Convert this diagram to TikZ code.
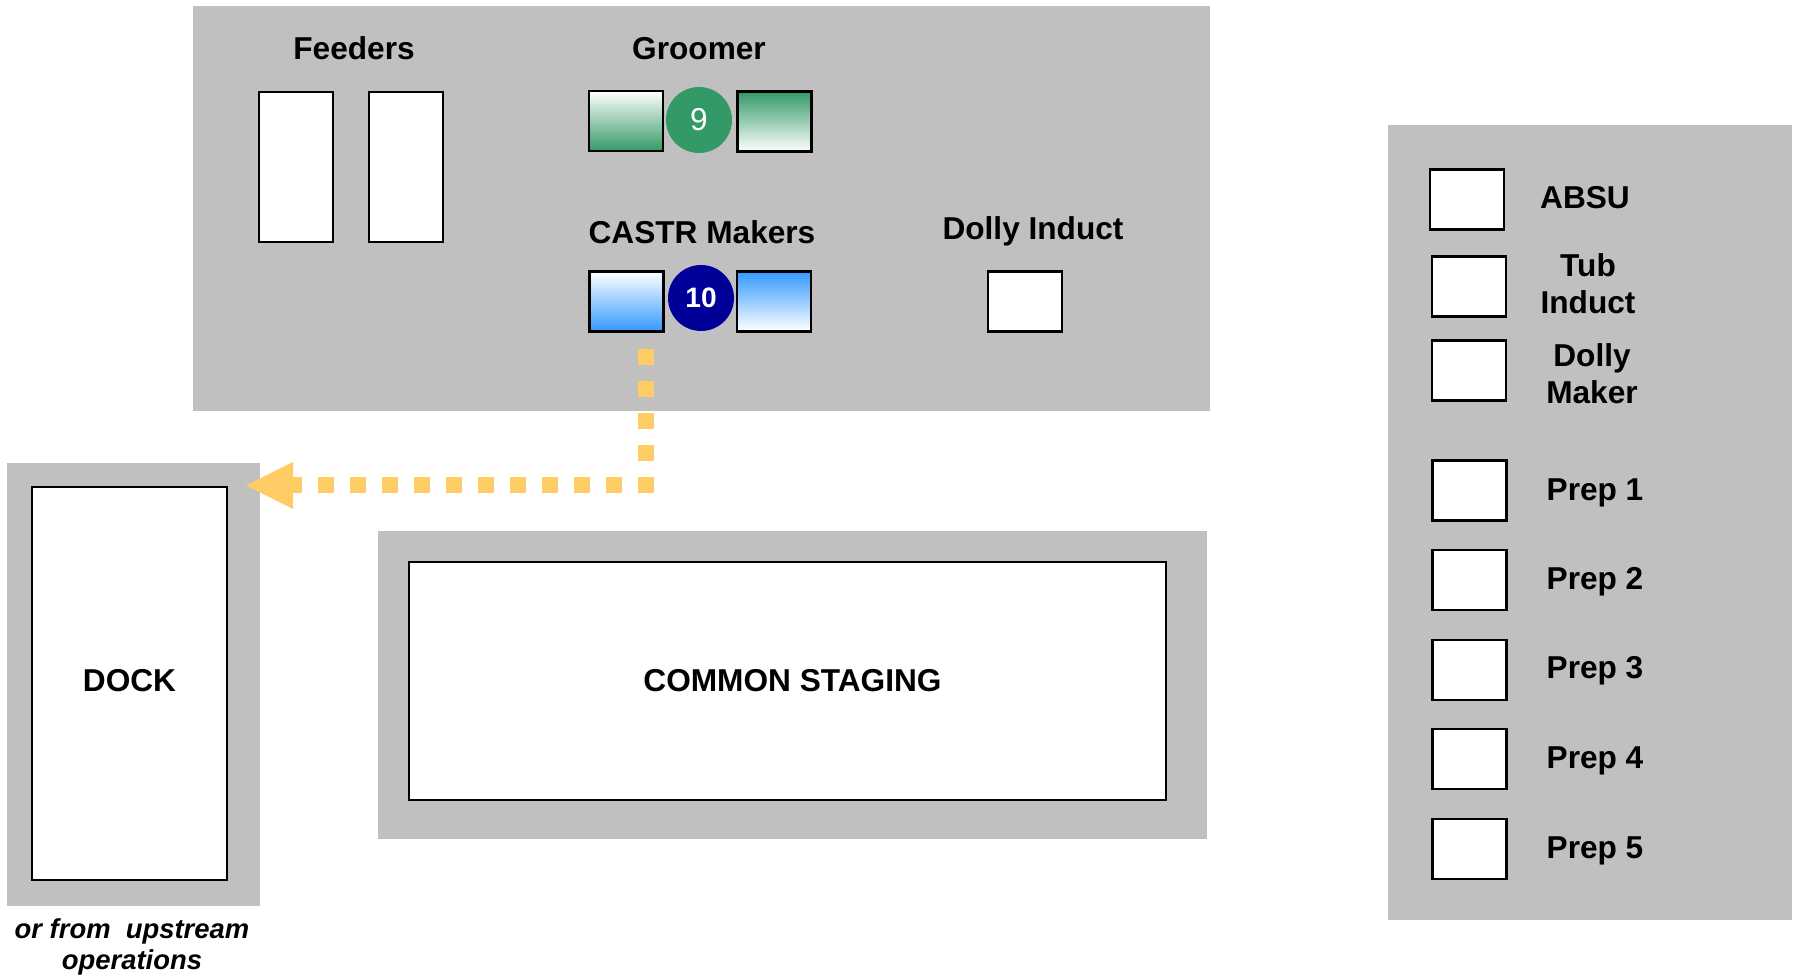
\documentclass[tikz,border=0pt]{standalone}
\usepackage{fontspec}
\setmainfont{Liberation Sans}
\usetikzlibrary{arrows.meta, positioning}

\definecolor{panelgray}{HTML}{C0C0C0}
\definecolor{groomgreen}{HTML}{339966}
\definecolor{castrblue}{HTML}{3399FF}
\definecolor{badgenavy}{HTML}{000099}
\definecolor{flowgold}{HTML}{FFCC66}

\begin{document}
\begin{tikzpicture}[
x=0.1mm, y=-0.1mm,
every node/.style={font=\fontsize{9}{10.5}\selectfont\bfseries, inner sep=0pt, outer sep=0pt},
panel/.style={rectangle, fill=panelgray},
station/.style={rectangle, draw, line width=0.6pt, fill=white, minimum width=7.4mm, minimum height=6mm},
tallbox/.style={station, minimum height=15mm},
greenin/.style={station, top color=white, middle color=groomgreen!30, bottom color=groomgreen},
greenout/.style={station, top color=groomgreen, middle color=groomgreen!30, bottom color=white},
bluein/.style={station, top color=white, middle color=castrblue!30, bottom color=castrblue},
blueout/.style={station, top color=castrblue, middle color=castrblue!30, bottom color=white},
badge/.style={circle, minimum size=6.6mm, text=white},
lbl/.style={anchor=base},
flow/.style={draw=flowgold, line width=1.6mm, dash pattern=on 1.6mm off 1.6mm, line join=miter,
  -{Triangle[length=4.7mm, width=4.7mm, line width=0pt]}}
]
\useasboundingbox (0,0) rectangle (1799,976);

% Panels
\node[panel, minimum width=101.7mm, minimum height=40.5mm] (cell) at (701.5,208.5) {};
\node[panel, minimum width=25.3mm, minimum height=44.3mm] (dockarea) at (133.5,684.5) {};
\node[panel, minimum width=82.9mm, minimum height=30.8mm] (stagearea) at (792.5,685) {};
\node[panel, minimum width=40.4mm, minimum height=79.5mm] (prep) at (1590,522.5) {};

% Feeders
\node[lbl] (feedlbl) at (354,59.7) {Feeders};
\node[tallbox] (feed1) at (296,167) {};
\node[tallbox] (feed2) at (406,167) {};

% Groomer
\node[lbl] (groomlbl) at (699,59.7) {Groomer};
\node[greenin] (groomL) at (626,121) {};
\node[greenout] (groomR) at (774.5,121.5) {};
\node[badge, fill=groomgreen, font=\fontsize{9}{10.5}\selectfont] (b9) at (699,120) {9};

% CASTR Makers
\node[lbl] (castrlbl) at (702,243.5) {CASTR Makers};
\node[bluein] (castrL) at (626.5,301.5) {};
\node[blueout] (castrR) at (774,301.5) {};
\node[badge, fill=badgenavy, font=\fontsize{8}{9}\selectfont\bfseries] (b10) at (701,298) {10};

% Dolly induct
\node[lbl] (dilbl) at (1033,239.6) {Dolly Induct};
\node[station] (dinduct) at (1025,301.5) {};

% Dock and staging
\node[rectangle, draw, line width=0.6pt, fill=white, minimum width=19.5mm, minimum height=39.3mm] (dock) at (129.5,683.5) {};
\node[lbl] at (129.5,691.4) {DOCK};
\node[font=\fontsize{7.8}{8.8}\selectfont\bfseries\itshape, align=center] (upstream) at (132,947) {or from\ \ upstream\\operations};
\node[rectangle, draw, line width=0.6pt, fill=white, minimum width=75.7mm, minimum height=23.8mm] (staging) at (787.5,681) {};
\node[lbl] at (792.5,691.5) {COMMON STAGING};

% Prep side
\node[station] (absu) at (1467,199.5) {};
\node[lbl] at (1585,209) {ABSU};
\node[station] (tub) at (1469,286.5) {};
\node[align=center] at (1588,284) {Tub\\Induct};
\node[station] (dmaker) at (1469,370.5) {};
\node[align=center] at (1592,374) {Dolly\\Maker};
\node[station] (prep1) at (1469.5,490.5) {};
\node[lbl] at (1595,500.5) {Prep 1};
\node[station] (prep2) at (1469.5,580) {};
\node[lbl] at (1595,590) {Prep 2};
\node[station] (prep3) at (1469.5,670) {};
\node[lbl] at (1595,678.5) {Prep 3};
\node[station] (prep4) at (1469.5,759) {};
\node[lbl] at (1595,769) {Prep 4};
\node[station] (prep5) at (1469.5,849) {};
\node[lbl] at (1595,858.5) {Prep 5};

% Flow to dock
\coordinate (flowstart) at (646,349.5);
\coordinate (flowend) at (246,485.5);
\draw[flow] (flowstart) |- (flowend);

\end{tikzpicture}
\end{document}
